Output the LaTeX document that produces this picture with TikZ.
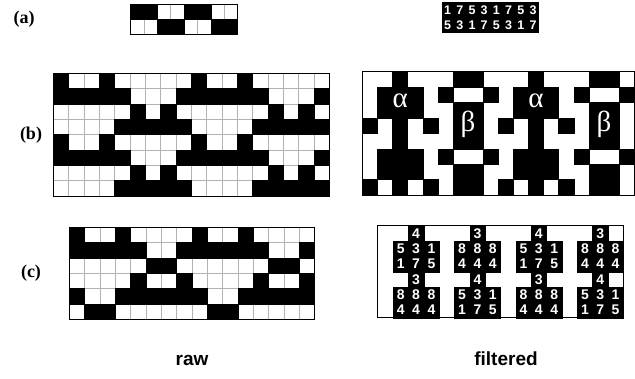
\documentclass[tikz,border=0pt]{standalone}
\usepackage{fontspec}
\setmainfont{Liberation Serif}
\setsansfont{Liberation Sans}
\usetikzlibrary{positioning}

\begin{document}
\begin{tikzpicture}[
  x=1pt, y=-1pt,
  cellw/.style={fill=white, draw=gray!60, line width=0.6pt},
  cellb/.style={fill=black, draw=black, line width=0.6pt},
  blob/.style={fill=black, draw=black, line width=0.3pt},
  frame/.style={draw=black, line width=0.7pt},
  tag/.style={font=\bfseries\fontsize{18}{18}\selectfont},
  digit/.style={text=white, inner sep=0pt,
                font=\sffamily\bfseries\fontsize{14}{14}\selectfont},
  smalldigit/.style={digit, font=\sffamily\bfseries\fontsize{12.5}{12.5}\selectfont},
  greek/.style={text=white, inner sep=0pt, font=\fontsize{29}{29}\selectfont},
  caption/.style={font=\sffamily\bfseries\fontsize{19}{19}\selectfont}
]
  \useasboundingbox (0,0) rectangle (635,379);

  % row labels
  \node[tag] (taga) at (24,19) {(a)};
  \node[tag] (tagb) at (31,135) {(b)};
  \node[tag] (tagc) at (31,273) {(c)};

  % (a) raw
  \begin{scope}[shift={(130.7,4)}]
    \foreach \c in {1,...,8} \foreach \r in {1,2}
      \draw[cellw] ({(\c-1)*13.35},{(\r-1)*15.3}) rectangle ++(13.35,15.3);
    \foreach \r/\bl in {1/{1,2,5,6}, 2/{3,4,7,8}}
      \foreach \c in \bl
        \draw[cellb] ({(\c-1)*13.35},{(\r-1)*15.3}) rectangle ++(13.35,15.3);
    \draw[frame] (0,0) rectangle (106.8,30.6);
  \end{scope}

  % (a) filtered
  \begin{scope}[shift={(441.5,2.5)}]
    \fill[black] (0,0) rectangle (97.6,30.6);
    \foreach \d [count=\i] in {1,7,5,3,1,7,5,3}
      \node[smalldigit] at ({(\i-0.5)*12.2},8) {\d};
    \foreach \d [count=\i] in {5,3,1,7,5,3,1,7}
      \node[smalldigit] at ({(\i-0.5)*12.2},22.8) {\d};
  \end{scope}

  % (b) raw
  \begin{scope}[shift={(53.3,73.3)}]
    \foreach \c in {1,...,18} \foreach \r in {1,...,8}
      \draw[cellw] ({(\c-1)*15.33},{(\r-1)*15.33}) rectangle ++(15.33,15.33);
    \foreach \r/\bl in {1/{1,4,10,13}, 2/{1,2,3,4,5,9,10,11,12,13,14,18},
                        3/{6,8,15,17}, 4/{5,6,7,8,9,14,15,16,17,18},
                        5/{1,4,10,13}, 6/{1,2,3,4,5,9,10,11,12,13,14,18},
                        7/{6,8,15,17}, 8/{5,6,7,8,9,14,15,16,17,18}}
      \foreach \c in \bl
        \draw[cellb] ({(\c-1)*15.33},{(\r-1)*15.33}) rectangle ++(15.33,15.33);
    \draw[frame] (0,0) rectangle (276,122.7);
  \end{scope}

  % (b) filtered
  \begin{scope}[shift={(362.3,71.7)}]
    \foreach \r/\bl in {1/{3,7,8,12,16,17}, 2/{2,3,4,6,9,11,12,13,15,18},
                        3/{2,3,4,7,8,11,12,13,16,17}, 4/{1,3,5,7,8,10,12,14,16,17},
                        5/{3,7,8,12,16,17}, 6/{2,3,4,6,9,11,12,13,15,18},
                        7/{2,3,4,7,8,11,12,13,16,17}, 8/{1,3,5,7,8,10,12,14,16,17}}
      \foreach \c in \bl
        \draw[blob] ({(\c-1)*15.1},{(\r-1)*15.4}) rectangle ++(15.1,15.4);
    \draw[frame] (0,0) rectangle (271.7,123.2);
    \node[greek] (alpha1) at (37.8,29.5) {α};
    \node[greek] (beta1) at (105.7,53) {β};
    \node[greek] (alpha2) at (173.7,29.5) {α};
    \node[greek] (beta2) at (241.6,53) {β};
  \end{scope}

  % (c) raw
  \begin{scope}[shift={(69.3,227.3)}]
    \foreach \c in {1,...,16} \foreach \r in {1,...,6}
      \draw[cellw] ({(\c-1)*15.33},{(\r-1)*15.33}) rectangle ++(15.33,15.33);
    \foreach \r/\bl in {1/{1,4,9,12}, 2/{1,2,3,4,5,8,9,10,11,12,13,16},
                        3/{6,7,14,15}, 4/{5,8,13,16},
                        5/{1,4,5,6,7,8,9,12,13,14,15,16}, 6/{2,3,10,11}}
      \foreach \c in \bl
        \draw[cellb] ({(\c-1)*15.33},{(\r-1)*15.33}) rectangle ++(15.33,15.33);
    \draw[frame] (0,0) rectangle (245.3,92);
  \end{scope}

  % (c) filtered
  \begin{scope}[shift={(377.7,225.7)}]
    \foreach \r/\digs in {1/{3/4,7/3,11/4,15/3},
        2/{2/5,3/3,4/1,6/8,7/8,8/8,10/5,11/3,12/1,14/8,15/8,16/8},
        3/{2/1,3/7,4/5,6/4,7/4,8/4,10/1,11/7,12/5,14/4,15/4,16/4},
        4/{3/3,7/4,11/3,15/4},
        5/{2/8,3/8,4/8,6/5,7/3,8/1,10/8,11/8,12/8,14/5,15/3,16/1},
        6/{2/4,3/4,4/4,6/1,7/7,8/5,10/4,11/4,12/4,14/1,15/7,16/5}}
      \foreach \c/\d in \digs {
        \draw[blob] ({(\c-1)*15.35},{(\r-1)*15.33}) rectangle ++(15.35,15.33);
        \node[digit] at ({(\c-0.5)*15.35},{(\r-0.5)*15.33}) {\d};
      }
    \draw[frame] (0,0) rectangle (245.6,92);
  \end{scope}

  % column captions
  \node[caption, anchor=base] (raw) at (192,366) {raw};
  \node[caption, anchor=base] (filtered) at (506,366) {filtered};
\end{tikzpicture}
\end{document}
